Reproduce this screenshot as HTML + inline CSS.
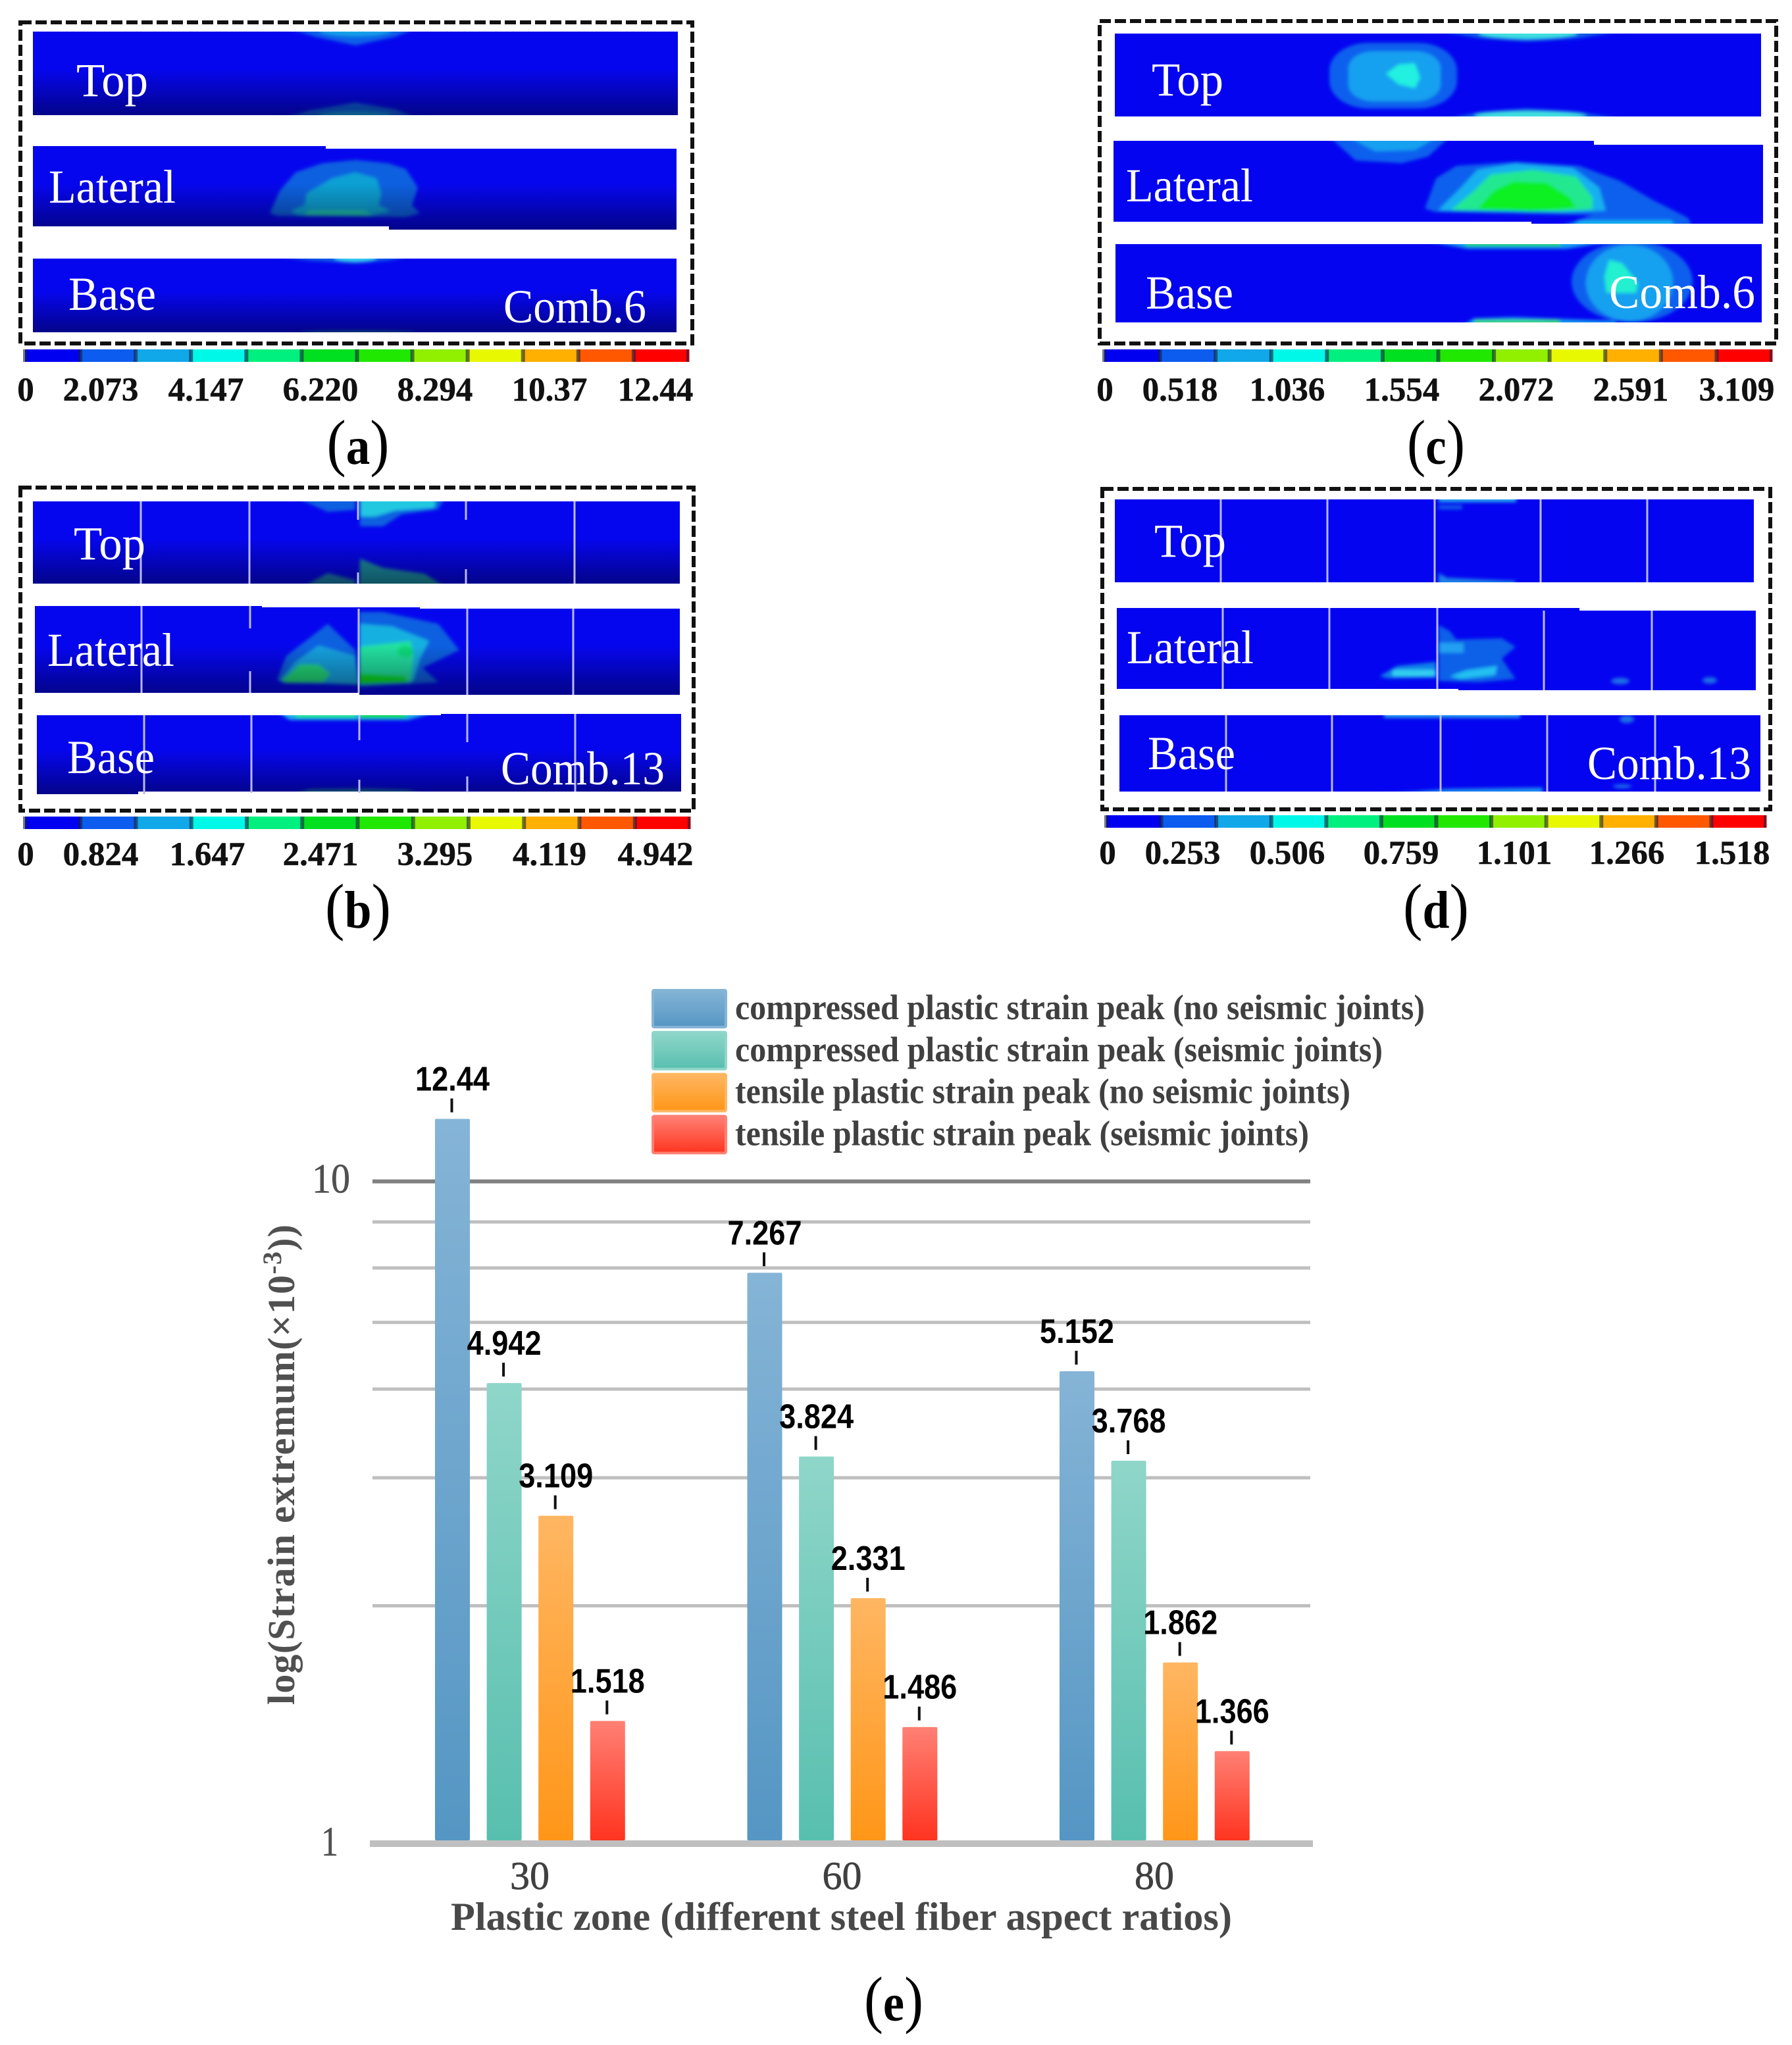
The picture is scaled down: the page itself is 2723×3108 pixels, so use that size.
<!DOCTYPE html>
<html lang="en">
<head>
<meta charset="utf-8">
<title>Plastic strain contours and peak strain chart</title>
<style>
html,body{margin:0;padding:0;background:#fff}
svg{display:block}
.serif{font-family:"Liberation Serif",serif}
.ptxt{font-family:"Liberation Serif",serif;font-size:72px;fill:#fff}
.cb{font-family:"Liberation Serif",serif;font-size:51px;font-weight:700;fill:#111;text-anchor:middle;stroke:#111;stroke-width:.5}
.cap{font-family:"Liberation Serif",serif;font-size:96px;fill:#000;text-anchor:middle}
.cap tspan{font-weight:700;font-size:80px}
.frame{fill:none;stroke:#111;stroke-width:6;stroke-dasharray:17 6}
.vl{stroke:#b8b8fa;stroke-width:3}
</style>
</head>
<body>
<svg id="figure" xmlns="http://www.w3.org/2000/svg" width="2723" height="3108" viewBox="0 0 2723 3108">
<defs>
<filter id="soft" x="-10%" y="-10%" width="120%" height="120%"><feGaussianBlur stdDeviation="2.6"/></filter>
<linearGradient id="shade" x1="0" y1="0" x2="0" y2="1"><stop offset="0.45" stop-color="#000" stop-opacity="0"/><stop offset="1" stop-color="#000" stop-opacity="0.42"/></linearGradient>
<polygon id="a1" points="50,48 1030,48 1030,175 50,175"/>
<polygon id="a2" points="50,222 495,222 495,226 1028,226 1028,349 591,349 591,344 50,344"/>
<polygon id="a3" points="50,393 1028,393 1028,505 50,505"/>
<polygon id="b1" points="50,762 1033,762 1033,887 50,887"/>
<polygon id="b2" points="53,921 398,921 398,923 638,923 638,925 1033,925 1033,1056 546,1056 546,1053 53,1053"/>
<polygon id="b3" points="56,1087 670,1087 670,1085 1035,1085 1035,1203 210,1203 210,1207 56,1207"/>
<polygon id="c1" points="1694,51 2676,51 2676,177 1694,177"/>
<polygon id="c2" points="1692,214 2422,214 2422,220 2679,220 2679,340 2327,340 2327,337 1692,337"/>
<polygon id="c3" points="1695,371 2677,371 2677,490 1695,490"/>
<polygon id="d1" points="1694,759 2665,759 2665,885 1694,885"/>
<polygon id="d2" points="1697,924 2400,924 2400,928 2668,928 2668,1049 2216,1049 2216,1047 1697,1047"/>
<polygon id="d3" points="1701,1087 2675,1087 2675,1203 1701,1203"/>
<clipPath id="ca1"><use href="#a1"/></clipPath><clipPath id="ca2"><use href="#a2"/></clipPath><clipPath id="ca3"><use href="#a3"/></clipPath>
<clipPath id="cb1"><use href="#b1"/></clipPath><clipPath id="cb2"><use href="#b2"/></clipPath><clipPath id="cb3"><use href="#b3"/></clipPath>
<clipPath id="cc1"><use href="#c1"/></clipPath><clipPath id="cc2"><use href="#c2"/></clipPath><clipPath id="cc3"><use href="#c3"/></clipPath>
<clipPath id="cd1"><use href="#d1"/></clipPath><clipPath id="cd2"><use href="#d2"/></clipPath><clipPath id="cd3"><use href="#d3"/></clipPath>
</defs>

<!-- PANEL A -->
<g id="panel-a">
<rect class="frame" x="31" y="34" width="1021" height="488"/>
<g clip-path="url(#ca1)"><use href="#a1" fill="#0606ee"/>
<g filter="url(#soft)"><polygon fill="#1060e8" points="435,42 635,42 600,56 540,69 480,56"/><ellipse fill="#18a0e8" cx="540" cy="46" rx="55" ry="9"/>
<polygon fill="#1060e8" points="431,180 470,168 540,156 600,166 635,180"/><ellipse fill="#18a0e8" cx="540" cy="176" rx="55" ry="6"/></g>
<use href="#a1" fill="url(#shade)"/></g>
<g clip-path="url(#ca2)"><use href="#a2" fill="#0606ee"/>
<g filter="url(#soft)"><polygon fill="#1060e0" points="410,324 425,290 449,262 490,248 540,243 590,248 617,257 635,285 626,312 638,324 617,330 421,328"/>
<polygon fill="#10a0d4" points="442,321 463,312 466,294 505,271 540,262 572,271 579,294 575,312 593,321 561,328 456,328"/>
<polygon fill="#20c8a8" points="470,320 554,320 566,327 462,327"/></g>
<use href="#a2" fill="url(#shade)"/></g>
<g clip-path="url(#ca3)"><use href="#a3" fill="#0606ee"/>
<g filter="url(#soft)"><polygon fill="#1060e8" points="414,388 631,388 590,396 540,400 470,396"/><ellipse fill="#38d0f0" cx="540" cy="392" rx="32" ry="6"/>
<ellipse fill="#1a80c0" cx="545" cy="506" rx="90" ry="3"/></g>
<use href="#a3" fill="url(#shade)"/></g>
<text class="ptxt" x="116" y="146" textLength="109" lengthAdjust="spacingAndGlyphs">Top</text>
<text class="ptxt" x="74" y="308" textLength="193" lengthAdjust="spacingAndGlyphs">Lateral</text>
<text class="ptxt" x="104" y="471" textLength="133" lengthAdjust="spacingAndGlyphs">Base</text>
<text class="ptxt" x="765" y="490" textLength="217" lengthAdjust="spacingAndGlyphs">Comb.6</text>
<g id="cb-a"></g>
<g>
<text class="cb" x="39" y="609">0</text><text class="cb" x="153" y="609">2.073</text><text class="cb" x="313" y="609">4.147</text><text class="cb" x="487" y="609">6.220</text><text class="cb" x="661" y="609">8.294</text><text class="cb" x="835" y="609">10.37</text><text class="cb" x="996" y="609">12.44</text>
</g>
<text class="cap" x="544" y="705" textLength="95" lengthAdjust="spacingAndGlyphs">(<tspan>a</tspan>)</text>
</g>

<!-- PANEL C -->
<g id="panel-c">
<rect class="frame" x="1671" y="32" width="1028" height="490"/>
<g clip-path="url(#cc1)"><use href="#c1" fill="#0404f0"/>
<g filter="url(#soft)"><polygon fill="#1060e8" points="2182,46 2469,46 2400,58 2320,63 2248,58"/><ellipse fill="#40e0e0" cx="2322" cy="50" rx="75" ry="9"/>
<rect fill="#0f60ee" x="2020" y="65" width="194" height="100" rx="60" ry="42"/><rect fill="#18a0f0" x="2049" y="78" width="140" height="76" rx="38" ry="26"/>
<polygon fill="#20f0e0" points="2106,112 2125,98 2150,96 2158,118 2150,134 2125,128"/>
<polygon fill="#1060e8" points="2192,182 2250,170 2320,165 2400,170 2469,182"/><ellipse fill="#40e0e0" cx="2325" cy="176" rx="85" ry="7"/></g></g>
<g clip-path="url(#cc2)"><use href="#c2" fill="#0404f0"/>
<g filter="url(#soft)"><polygon fill="#0f60ee" points="2020,208 2203,208 2170,238 2130,248 2060,244"/><polygon fill="#18a0f0" points="2048,208 2185,208 2150,228 2090,230"/>
<polygon fill="#0f60ee" points="2165,317 2182,271 2213,252 2303,246 2400,252 2462,275 2510,303 2565,331 2572,345 2365,345 2420,327 2180,322"/>
<polygon fill="#18b0f0" points="2185,320 2220,285 2245,258 2303,248 2390,255 2430,285 2440,320 2380,323"/>
<polygon fill="#20e890" points="2205,319 2240,290 2265,265 2330,258 2395,268 2420,300 2420,318 2370,321"/>
<polygon fill="#10f020" points="2245,318 2270,290 2300,276 2350,278 2385,300 2395,316 2330,321"/>
<polygon fill="#18b0f0" points="2385,345 2400,335 2540,335 2545,345"/></g></g>
<g clip-path="url(#cc3)"><use href="#c3" fill="#0404f0"/>
<g filter="url(#soft)"><polygon fill="#18a0f0" points="2168,366 2455,366 2380,378 2230,378"/><rect fill="#20d860" x="2227" y="366" width="145" height="8"/>
<ellipse fill="#0f60ee" cx="2480" cy="428" rx="92" ry="62"/><ellipse fill="#18a0f0" cx="2476" cy="430" rx="66" ry="58"/>
<polygon fill="#20f0d0" points="2445,395 2465,400 2489,430 2486,445 2441,445 2438,420"/>
<polygon fill="#18a0f0" points="2223,494 2240,484 2300,482 2455,488 2455,494"/><rect fill="#40e070" x="2240" y="486" width="130" height="7"/></g></g>
<text class="ptxt" x="1750" y="145" textLength="109" lengthAdjust="spacingAndGlyphs">Top</text>
<text class="ptxt" x="1711" y="306" textLength="193" lengthAdjust="spacingAndGlyphs">Lateral</text>
<text class="ptxt" x="1741" y="469" textLength="133" lengthAdjust="spacingAndGlyphs">Base</text>
<text class="ptxt" x="2445" y="468" textLength="222" lengthAdjust="spacingAndGlyphs">Comb.6</text>
<g id="cb-c"></g>
<g>
<text class="cb" x="1679" y="609">0</text><text class="cb" x="1793" y="609">0.518</text><text class="cb" x="1956" y="609">1.036</text><text class="cb" x="2130" y="609">1.554</text><text class="cb" x="2304" y="609">2.072</text><text class="cb" x="2478" y="609">2.591</text><text class="cb" x="2639" y="609">3.109</text>
</g>
<text class="cap" x="2182" y="705" textLength="88" lengthAdjust="spacingAndGlyphs">(<tspan>c</tspan>)</text>
</g>

<!-- PANEL B -->
<g id="panel-b">
<rect class="frame" x="31" y="741" width="1023" height="491"/>
<g clip-path="url(#cb1)"><use href="#b1" fill="#0606ee"/>
<g filter="url(#soft)"><polygon fill="#1060e0" points="449,756 540,756 540,775 498,778"/>
<polygon fill="#1060e0" points="546,756 677,756 666,774 610,782 582,800 547,800"/><polygon fill="#20c8e0" points="547,756 663,756 660,772 600,776 570,785 547,785"/>
<polygon fill="#1a80b0" points="460,892 498,871 540,882 540,892"/><polygon fill="#1a90a8" points="546,892 547,849 582,863 645,872 677,892"/></g>
<use href="#b1" fill="url(#shade)"/></g>
<g clip-path="url(#cb2)"><use href="#b2" fill="#0606ee"/>
<g filter="url(#soft)"><polygon fill="#1060e0" points="421,1033 435,997 498,948 540,988 545,1041 430,1038"/>
<polygon fill="#18a0e0" points="425,1035 449,1006 484,981 540,997 545,1040"/>
<polygon fill="#20d878" points="428,1034 456,1010 484,1010 502,1024 491,1037 435,1038"/>
<polygon fill="#1060e0" points="546,930 582,930 666,948 698,988 642,1015 666,1037 546,1044"/>
<polygon fill="#18b0e0" points="546,948 596,952 652,974 638,1001 628,1035 546,1040"/>
<polygon fill="#20e0a0" points="546,983 624,974 628,997 624,1037 546,1040"/>
<polygon fill="#10e020" points="546,1024 617,1028 617,1037 546,1040"/><ellipse fill="#10d878" cx="616" cy="990" rx="12" ry="9"/></g>
<use href="#b2" fill="url(#shade)"/></g>
<g clip-path="url(#cb3)"><use href="#b3" fill="#0606ee"/>
<g filter="url(#soft)"><polygon fill="#20b0e8" points="421,1081 666,1081 620,1094 440,1094"/><rect fill="#20e890" x="450" y="1082" width="90" height="9"/><rect fill="#10e040" x="547" y="1082" width="70" height="9"/>
<polygon fill="#1a80b0" points="425,1212 470,1200 550,1199 620,1201 666,1212"/></g>
<use href="#b3" fill="url(#shade)"/></g>
<g>
<line class="vl" x1="214" y1="762" x2="214" y2="887"/><line class="vl" x1="379" y1="762" x2="379" y2="887"/><line class="vl" x1="544" y1="762" x2="544" y2="790"/><line class="vl" x1="544" y1="870" x2="544" y2="887"/><line class="vl" x1="708" y1="762" x2="708" y2="790"/><line class="vl" x1="708" y1="865" x2="708" y2="887"/><line class="vl" x1="873" y1="762" x2="873" y2="887"/>
<line class="vl" x1="215" y1="921" x2="215" y2="1053"/><line class="vl" x1="380" y1="921" x2="380" y2="955"/><line class="vl" x1="380" y1="1020" x2="380" y2="1053"/><line class="vl" x1="545" y1="925" x2="545" y2="1053"/><line class="vl" x1="710" y1="925" x2="710" y2="1056"/><line class="vl" x1="871" y1="925" x2="871" y2="1056"/>
<line class="vl" x1="219" y1="1087" x2="219" y2="1207"/><line class="vl" x1="382" y1="1087" x2="382" y2="1205"/><line class="vl" x1="546" y1="1087" x2="546" y2="1125"/><line class="vl" x1="546" y1="1185" x2="546" y2="1205"/><line class="vl" x1="710" y1="1085" x2="710" y2="1128"/><line class="vl" x1="710" y1="1180" x2="710" y2="1204"/><line class="vl" x1="874" y1="1085" x2="874" y2="1203"/>
</g>
<text class="ptxt" x="112" y="850" textLength="109" lengthAdjust="spacingAndGlyphs">Top</text>
<text class="ptxt" x="72" y="1012" textLength="193" lengthAdjust="spacingAndGlyphs">Lateral</text>
<text class="ptxt" x="102" y="1175" textLength="133" lengthAdjust="spacingAndGlyphs">Base</text>
<text class="ptxt" x="761" y="1192" textLength="249" lengthAdjust="spacingAndGlyphs">Comb.13</text>
<g id="cb-b"></g>
<g>
<text class="cb" x="39" y="1315">0</text><text class="cb" x="153" y="1315">0.824</text><text class="cb" x="315" y="1315">1.647</text><text class="cb" x="487" y="1315">2.471</text><text class="cb" x="661" y="1315">3.295</text><text class="cb" x="835" y="1315">4.119</text><text class="cb" x="996" y="1315">4.942</text>
</g>
<text class="cap" x="544" y="1410" textLength="100" lengthAdjust="spacingAndGlyphs">(<tspan>b</tspan>)</text>
</g>

<!-- PANEL D -->
<g id="panel-d">
<rect class="frame" x="1675" y="743" width="1015" height="487"/>
<g clip-path="url(#cd1)"><use href="#d1" fill="#0404f0"/>
<g filter="url(#soft)"><rect fill="#28b0f0" x="2186" y="755" width="118" height="8"/><rect fill="#1060e8" x="2186" y="768" width="36" height="6"/>
<polygon fill="#1a80e8" points="2186,871 2199,878 2303,883 2303,890 2186,890"/></g></g>
<g clip-path="url(#cd2)"><use href="#d2" fill="#0404f0"/>
<g filter="url(#soft)"><polygon fill="#1060e8" points="2186,950 2203,959 2213,972 2282,970 2303,983 2282,1001 2303,1032 2248,1037 2186,1035"/>
<rect fill="#20a0f0" x="2186" y="977" width="38" height="15"/>
<polygon fill="#20c0f0" points="2203,1028 2227,1019 2275,1012 2272,1026 2220,1032"/>
<polygon fill="#1080e8" points="2096,1028 2123,1012 2182,1006 2182,1030 2110,1031"/><rect fill="#30d0f0" x="2116" y="1018" width="66" height="10"/>
<ellipse fill="#1a70e8" cx="2462" cy="1035" rx="14" ry="5"/><ellipse fill="#1a70e8" cx="2598" cy="1034" rx="11" ry="5"/></g></g>
<g clip-path="url(#cd3)"><use href="#d3" fill="#0404f0"/>
<g filter="url(#soft)"><rect fill="#28a0f0" x="2103" y="1083" width="207" height="8"/><ellipse fill="#1a70e8" cx="2472" cy="1093" rx="11" ry="6"/>
<polygon fill="#1a90f0" points="2103,1207 2200,1199 2344,1197 2344,1207"/><ellipse fill="#1a70e8" cx="2465" cy="1195" rx="14" ry="3"/></g></g>
<g>
<line class="vl" x1="1855" y1="759" x2="1855" y2="885"/><line class="vl" x1="2017" y1="759" x2="2017" y2="885"/><line class="vl" x1="2180" y1="759" x2="2180" y2="885"/><line class="vl" x1="2341" y1="759" x2="2341" y2="885"/><line class="vl" x1="2503" y1="759" x2="2503" y2="885"/>
<line class="vl" x1="1858" y1="924" x2="1858" y2="1047"/><line class="vl" x1="2020" y1="924" x2="2020" y2="1047"/><line class="vl" x1="2184" y1="924" x2="2184" y2="1047"/><line class="vl" x1="2346" y1="928" x2="2346" y2="1049"/><line class="vl" x1="2510" y1="928" x2="2510" y2="1049"/>
<line class="vl" x1="1863" y1="1087" x2="1863" y2="1203"/><line class="vl" x1="2024" y1="1087" x2="2024" y2="1203"/><line class="vl" x1="2189" y1="1087" x2="2189" y2="1203"/><line class="vl" x1="2351" y1="1087" x2="2351" y2="1203"/><line class="vl" x1="2515" y1="1087" x2="2515" y2="1203"/>
</g>
<text class="ptxt" x="1754" y="846" textLength="109" lengthAdjust="spacingAndGlyphs">Top</text>
<text class="ptxt" x="1712" y="1008" textLength="193" lengthAdjust="spacingAndGlyphs">Lateral</text>
<text class="ptxt" x="1744" y="1169" textLength="133" lengthAdjust="spacingAndGlyphs">Base</text>
<text class="ptxt" x="2412" y="1184" textLength="249" lengthAdjust="spacingAndGlyphs">Comb.13</text>
<g id="cb-d"></g>
<g>
<text class="cb" x="1683" y="1313">0</text><text class="cb" x="1797" y="1313">0.253</text><text class="cb" x="1956" y="1313">0.506</text><text class="cb" x="2129" y="1313">0.759</text><text class="cb" x="2301" y="1313">1.101</text><text class="cb" x="2472" y="1313">1.266</text><text class="cb" x="2632" y="1313">1.518</text>
</g>
<text class="cap" x="2182" y="1410" textLength="100" lengthAdjust="spacingAndGlyphs">(<tspan>d</tspan>)</text>
</g>

<!-- PANEL E -->
<g id="panel-e">
<g id="grid"></g>
<g id="bars"></g>
<g id="bar-labels"></g>
<g id="y-ticks"></g>
<g id="x-ticks"></g>
<g id="legend"></g>
<text x="447" y="2591" transform="rotate(-90 447 2591)" textLength="730" lengthAdjust="spacing" font-family="Liberation Serif, serif" font-size="58" font-weight="700" fill="#505050">log(Strain extremum(×10<tspan font-size="40" dy="-20">-3</tspan><tspan dy="20">))</tspan></text>
<text x="685" y="2933" textLength="1187" lengthAdjust="spacingAndGlyphs" font-family="Liberation Serif, serif" font-size="60" font-weight="700" fill="#484848">Plastic zone (different steel fiber aspect ratios)</text>
<text class="cap" x="1358" y="3071" textLength="90" lengthAdjust="spacingAndGlyphs">(<tspan>e</tspan>)</text>
</g>
</svg>

<script>
// Colorbar swatches shared by the four contour panels
const contourColors = ['#0000f0','#0c5cf0','#10a8e8','#00f8e8','#00f080','#00e020','#20e800','#90f000','#e8f800','#ffb000','#ff5800','#ff0000'];
const colorbarIds = ['cb-a','cb-b','cb-c','cb-d'];

// Bar chart data
const categories = ['30','60','80'];
const compressedNoJoints = [12.44,7.267,5.152];
const compressedJoints = [4.942,3.824,3.768];
const tensileNoJoints = [3.109,2.331,1.862];
const tensileJoints = [1.518,1.486,1.366];
const seriesNames = ['compressed plastic strain peak (no seismic joints)','compressed plastic strain peak (seismic joints)','tensile plastic strain peak (no seismic joints)','tensile plastic strain peak (seismic joints)'];
const yTickValues = [1,10];
const gridValues = [8.68,7.39,6.11,4.84,3.55,2.27];

const NS = 'http://www.w3.org/2000/svg';
const series = [compressedNoJoints,compressedJoints,tensileNoJoints,tensileJoints];
const seriesTop = ['#85b4d6','#8fd6c9','#ffb662','#ff8074'];
const seriesBottom = ['#5596c4','#58bfaf','#ff9618','#ff3420'];

function mk(tag,attrs,parent){
  const e = document.createElementNS(NS,tag);
  for(const k in attrs){ e.setAttribute(k,attrs[k]); }
  parent.appendChild(e);
  return e;
}
function yScale(v){ return 2797 - 1001.5*Math.log10(v); }
function groupX(i){ return 661 + i*474.5; }
function barX(i,s){ return groupX(i) + s*78.6; }
const barW = 53;

// gradients
const defs = document.querySelector('#figure defs');
series.forEach(function(_,s){
  const g = mk('linearGradient',{id:'bar-grad-'+s,x1:0,y1:0,x2:0,y2:1},defs);
  mk('stop',{offset:0,'stop-color':seriesTop[s]},g);
  mk('stop',{offset:1,'stop-color':seriesBottom[s]},g);
});

// colorbars
const colorbarGeom = {'cb-a':[38,531,1009],'cb-b':[38,1241,1011],'cb-c':[1678,531,1015],'cb-d':[1681,1239,1003]};
colorbarIds.forEach(function(id){
  const host = document.getElementById(id);
  const geom = colorbarGeom[id];
  const segW = geom[2]/contourColors.length;
  contourColors.forEach(function(c,i){
    const seg = mk('rect',{x:geom[0]+i*segW,y:geom[1],width:segW+0.5,height:19,fill:c},host);
    
    
    const sep = mk('rect',{x:geom[0]+i*segW-3,y:geom[1],width:6,height:19,fill:'#182040','fill-opacity':0.6},host);
    
    
  });
  const end = mk('rect',{x:geom[0]+geom[2]-4,y:geom[1],width:4,height:19,fill:'#182040','fill-opacity':0.6},host);
  
  
});

// gridlines and axes
const grid = document.getElementById('grid');
gridValues.forEach(function(v){
  const r = mk('rect',{x:566,y:yScale(v)-2.5,width:1425,height:5,fill:'#bfbfbf'},grid);
  
  
});
const yt = document.getElementById('y-ticks');
yTickValues.forEach(function(v){
  const isTop = v === 10;
  const line = mk('rect',{x:isTop?566:562,y:isTop?yScale(v)-3:yScale(v),width:isTop?1425:1433,height:isTop?6:10,fill:isTop?'#808080':'#bfbfbf'},grid);
  
  
  const t = mk('text',{x:isTop?474:488,y:isTop?yScale(v)+17:yScale(v)+23,'font-family':'Liberation Serif, serif','font-size':64,fill:'#505050',stroke:'#505050','stroke-width':0.6,textLength:isTop?58:26,lengthAdjust:'spacingAndGlyphs'},yt);
  t.textContent = String(v);
  
  
});

// bars
const barsG = document.getElementById('bars');
const labelsG = document.getElementById('bar-labels');
categories.forEach(function(cat,i){
  series.forEach(function(vals,s){
    const v = vals[i], x = barX(i,s), y = yScale(v);
    const b = mk('rect',{x:x,y:y,width:barW,height:yScale(1)-y,fill:'url(#bar-grad-'+s+')',rx:2},barsG);
    
    
    const tick = mk('rect',{x:x+barW/2-3,y:y-31,width:4,height:21,fill:'#111'},labelsG);
    
    
    const t = mk('text',{x:x+barW/2,y:y-43,'text-anchor':'middle','font-family':'Liberation Sans, sans-serif','font-size':52,'font-weight':700,fill:'#000',textLength:113,lengthAdjust:'spacingAndGlyphs'},labelsG);
    t.textContent = String(v);
    
    
  });
});

// x ticks
const xt = document.getElementById('x-ticks');
categories.forEach(function(cat,i){
  const t = mk('text',{x:groupX(i)+144,y:2871,'text-anchor':'middle','font-family':'Liberation Serif, serif','font-size':60,fill:'#404040',stroke:'#404040','stroke-width':0.7,textLength:60,lengthAdjust:'spacingAndGlyphs'},xt);
  t.textContent = cat;
  
  
});

// legend
const legendG = document.getElementById('legend');
const legendLengths = [1048,984,935,872];
seriesNames.forEach(function(name,s){
  const top = 1503 + s*63.8;
  const sw = mk('rect',{x:992,y:top+2,width:111,height:56,fill:'url(#bar-grad-'+s+')',stroke:seriesTop[s],'stroke-width':4,rx:2},legendG);
  
  
  const t = mk('text',{x:1117,y:top+46,'font-family':'Liberation Serif, serif','font-size':54,'font-weight':700,fill:'#404040',textLength:legendLengths[s],lengthAdjust:'spacingAndGlyphs'},legendG);
  t.textContent = name;
  
  
});
</script>
</body>
</html>
